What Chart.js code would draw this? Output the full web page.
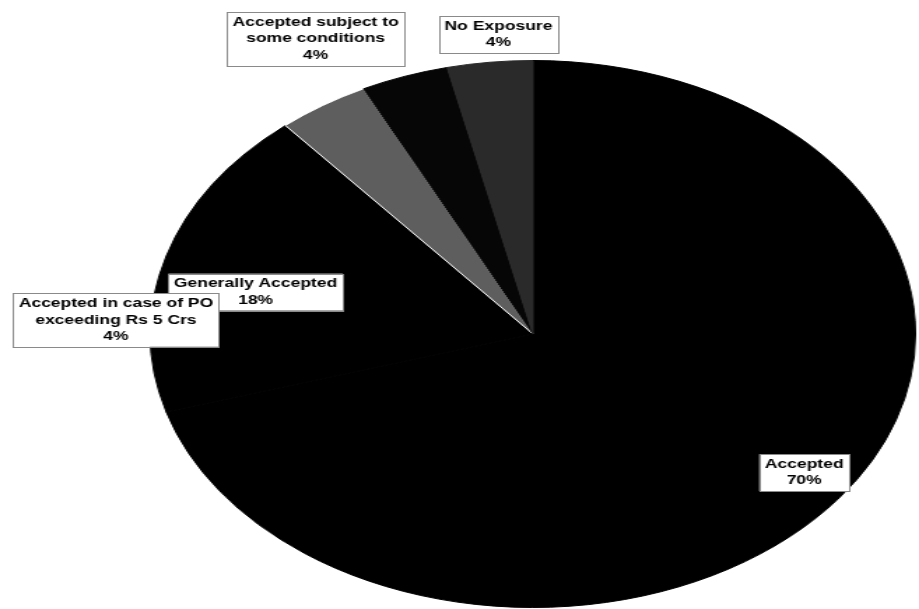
<!DOCTYPE html>
<html>
<head>
<meta charset="utf-8">
<script src="https://cdn.jsdelivr.net/npm/chart.js@4.4.1/dist/chart.umd.min.js"></script>
<style>
  html, body { margin: 0; padding: 0; background: #ffffff; overflow: hidden; }
  #wrap { width: 919px; height: 609px; position: relative; overflow: hidden; }
  #c { position: absolute; left: 0; top: 0; width: 657px; height: 609px; transform: scaleX(1.3988); transform-origin: 0 0; }
</style>
</head>
<body>
<div id="wrap"><canvas id="c" width="657" height="609"></canvas></div>
<script>
// ---- data ----
const categories = [
  'Accepted',
  'Generally Accepted',
  'Accepted in case of PO exceeding Rs 5 Crs',
  'Accepted subject to some conditions',
  'No Exposure'
];
// slice sizes (printed labels round to 70%, 18%, 4%, 4%, 4%)
const values = [70.4, 18.4, 3.9, 3.7, 3.6];
const labelLines = [
  ['Accepted'],
  ['Generally Accepted'],
  ['Accepted in case of PO', 'exceeding Rs 5 Crs'],
  ['Accepted subject to', 'some conditions'],
  ['No Exposure']
];

// ---- style / layout ----
const sliceColors = ['#000000', '#000000', '#5e5e5e', '#060606', '#2a2a2a'];
const sliceBorderColors = ['#000000', '#000000', '#ffffff', '#060606', '#2a2a2a'];
const sliceBorderWidths = [1, 1, 1, 1, 1];
// label box centres, as fractions of the pie radius from its centre
const labelAnchors = [
  [0.709, 0.507],
  [-0.725, -0.153],
  [-1.09, -0.051],
  [-0.568, -1.080],
  [-0.090, -1.095]
];

const dataLabelPlugin = {
  id: 'boxLabels',
  afterDatasetsDraw(chart) {
    const ctx = chart.ctx;
    const meta = chart.getDatasetMeta(0);
    const arc0 = meta.data[0];
    const cx = arc0.x, cy = arc0.y, r = arc0.outerRadius;
    const total = values.reduce((a, b) => a + b, 0);
    ctx.save();
    ctx.font = 'bold 12.5px "Liberation Sans", Arial, sans-serif';
    ctx.textAlign = 'center';
    ctx.textBaseline = 'middle';
    const lh = 16.5;
    values.forEach((v, i) => {
      const lines = labelLines[i].concat([Math.round(v / total * 100) + '%']);
      const w = Math.max(...lines.map(t => ctx.measureText(t).width)) + 8;
      const h = lines.length * lh + 4;
      const x = cx + labelAnchors[i][0] * r;
      const y = cy + labelAnchors[i][1] * r;
      ctx.fillStyle = '#ffffff';
      ctx.fillRect(x - w / 2, y - h / 2, w, h);
      ctx.strokeStyle = '#8a8a8a';
      ctx.lineWidth = 1;
      ctx.strokeRect(Math.round(x - w / 2) + 0.5, Math.round(y - h / 2) + 0.5, Math.round(w), Math.round(h));
      ctx.fillStyle = '#000000';
      lines.forEach((t, k) => {
        ctx.fillText(t, x, y - h / 2 + 2 + lh * (k + 0.5));
      });
    });
    ctx.restore();
  }
};

new Chart(document.getElementById('c'), {
  type: 'pie',
  data: {
    labels: categories,
    datasets: [{
      data: values,
      backgroundColor: sliceColors,
      borderColor: sliceBorderColors,
      borderWidth: sliceBorderWidths
    }]
  },
  options: {
    responsive: false,
    animation: false,
    events: [],
    layout: { padding: { top: 60, bottom: 1, left: 107, right: 2 } },
    plugins: {
      legend: { display: false },
      tooltip: { enabled: false },
      title: { display: false }
    }
  },
  plugins: [dataLabelPlugin]
});
</script>
</body>
</html>
